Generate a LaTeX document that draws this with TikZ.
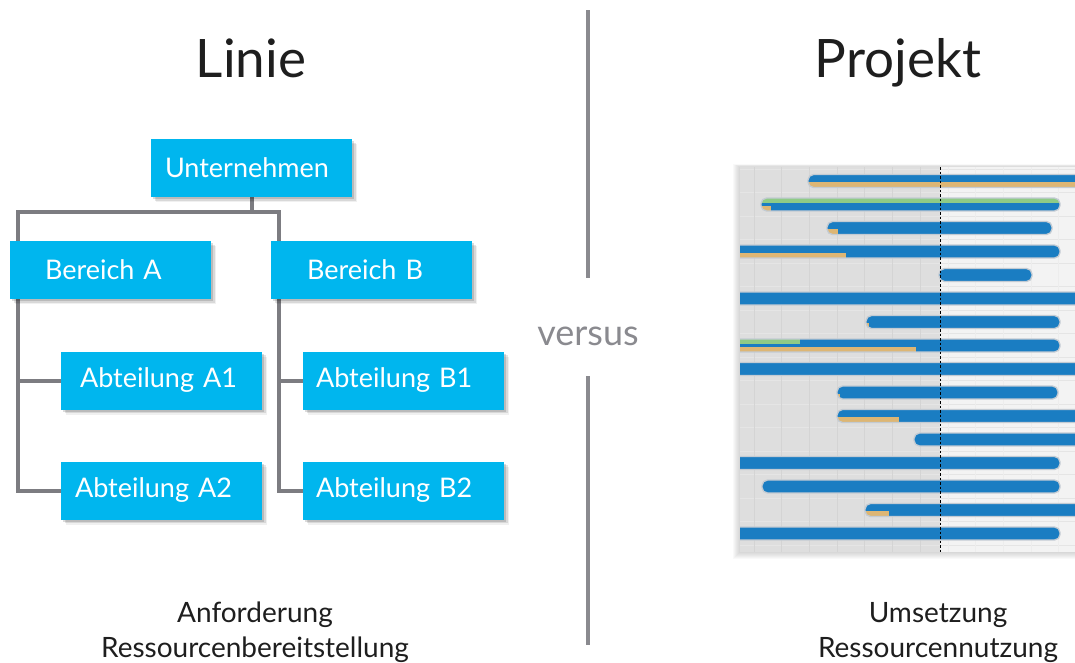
\documentclass[tikz,border=0pt]{standalone}
\usepackage{fontspec}
\setmainfont{Lato}
\usetikzlibrary{shadows,backgrounds}
\definecolor{boxcyan}{HTML}{00B6EE}
\definecolor{conngray}{HTML}{7C7C81}
\definecolor{divgray}{HTML}{8A8A8F}
\definecolor{txtdark}{HTML}{1E1E1E}
\definecolor{barblue}{HTML}{1A7DC2}
\definecolor{barrim}{HTML}{C3CBD3}
\definecolor{gtan}{HTML}{DDB674}
\definecolor{ggreen}{HTML}{8FCB86}
\definecolor{gleft}{HTML}{DEDEDE}
\definecolor{gright}{HTML}{F3F3F3}
\newcommand\gbar[5]{%
  \begin{scope}
    \clip[rounded corners=5.5pt] (#2,#1-6.5) rectangle (#3,#1+6.5);
    \fill[barblue] (#2,#1-6.5) rectangle (#3,#1+6.5);
    \fill[ggreen] (#2,#1-6.5) rectangle (#4,#1-2);
    \fill[gtan] (#2,#1+1) rectangle (#5,#1+6.5);
  \end{scope}
  \draw[barrim, line width=1.3pt, rounded corners=5.5pt] (#2,#1-6.5) rectangle (#3,#1+6.5);
}
\tikzset{
  orgbox/.style={fill=boxcyan, text=white, font=\fontsize{27}{30}\selectfont,
    minimum height=58pt, text width=201pt-2*#1, inner xsep=#1, align=left,
    drop shadow={shadow xshift=5pt, shadow yshift=-5pt, opacity=.06, fill=black},
    drop shadow={shadow xshift=3.5pt, shadow yshift=-3.5pt, opacity=.10, fill=black},
    drop shadow={shadow xshift=2pt, shadow yshift=-2pt, opacity=.14, fill=black}},
  conn/.style={draw=conngray, line width=4pt},
  divider/.style={draw=divgray, line width=4.5pt},
  title/.style={text=txtdark, font=\fontsize{53}{58}\selectfont, anchor=base, inner sep=0pt},
  foot/.style={text=txtdark, font=\fontsize{28}{31}\selectfont, anchor=base, inner sep=0pt},
  vs/.style={text=divgray, font=\fontsize{36}{40}\selectfont, anchor=base, inner sep=0pt},
}
\begin{document}
\begin{tikzpicture}[x=1pt,y=-1pt]
\useasboundingbox (0,0) rectangle (1075,662);
% titles
\node[title] (linie) at (251,77) {Linie};
\node[title] (projekt) at (898,77) {Projekt};
% org chart
\node[orgbox=14pt] (U) at (251.5,168) {Unternehmen};
\node[orgbox=35pt] (BA) at (110.5,270) {Bereich A};
\node[orgbox=36pt] (BB) at (371.5,270) {Bereich B};
\node[orgbox=19pt] (A1) at (161.5,380.5) {Abteilung A1};
\node[orgbox=14pt] (A2) at (161.5,490.5) {Abteilung A2};
\node[orgbox=13pt] (B1) at (403.5,380.5) {Abteilung B1};
\node[orgbox=13pt] (B2) at (403.5,490.5) {Abteilung B2};
\coordinate (hl) at (18,212);
\coordinate (hr) at (279,212);
\begin{scope}[on background layer]
  \draw[conn] (U.south) -- (U.south |- hl);
  \draw[conn, line cap=rect] (hl) -- (hr);
  \draw[conn] (hl) -- (hl |- A2.west) -- (A2.west);
  \draw[conn] (hl |- A1.west) -- (A1.west);
  \draw[conn] (hr) -- (hr |- B2.west) -- (B2.west);
  \draw[conn] (hr |- B1.west) -- (B1.west);
\end{scope}
% divider
\node[vs] (versus) at (588,345) {versus};
\coordinate (dtop) at (588,10);
\coordinate (dbot) at (588,645);
\draw[divider] (dtop) -- (588,278);
\draw[divider] (588,376) -- (dbot);
% footers
\node[foot] (f1) at (255,622) {Anforderung};
\node[foot] (f2) at (255,657) {Ressourcenbereitstellung};
\node[foot] (f3) at (938,622) {Umsetzung};
\node[foot] (f4) at (938,657) {Ressourcennutzung};
% gantt panel shadow
\foreach \s in {1,...,7} {
  \fill[black, opacity=0.022] (740-\s,167-0.4*\s) rectangle (1080,552+\s);
}
\begin{scope}
  \clip (740,167) rectangle (1075,552);
  \fill[gleft] (740,167) rectangle (940,552);
  \fill[gright] (940,167) rectangle (1075,552);
  \foreach \r in {0,...,16} {
    \draw[black!10, line width=0.6pt] (740,169.25+23.5*\r) -- (1075,169.25+23.5*\r);
  }
  \foreach \k in {0,...,11} {
    \pgfmathsetmacro\gx{754+27.7*\k}
    \ifdim\gx pt<940pt
      \draw[black!17, line width=0.8pt] (\gx,167) -- (\gx,552);
    \else
      \draw[black!7, line width=0.8pt] (\gx,167) -- (\gx,552);
    \fi
  }
  \gbar{181}{808}{1090}{808}{1090}
  \gbar{204.5}{761}{1060}{1060}{771}
  \gbar{228}{827}{1052}{827}{838}
  \gbar{251.5}{720}{1060}{720}{846}
  \gbar{275}{939}{1032}{939}{939}
  \gbar{298.5}{720}{1090}{720}{720}
  \gbar{322}{866}{1060}{866}{869}
  \gbar{345.5}{720}{1060}{800}{916}
  \gbar{369}{720}{1090}{720}{720}
  \gbar{392.5}{837}{1058}{837}{840}
  \gbar{416}{837}{1090}{837}{899}
  \gbar{439.5}{914}{1090}{914}{914}
  \gbar{463}{720}{1060}{720}{720}
  \gbar{486.5}{762}{1060}{762}{762}
  \gbar{510}{865}{1090}{865}{889}
  \gbar{533.5}{720}{1060}{720}{720}
  \draw[black, line width=0.9pt, dash pattern=on 2.5pt off 2pt] (940,167) -- (940,552);
\end{scope}
\end{tikzpicture}
\end{document}
